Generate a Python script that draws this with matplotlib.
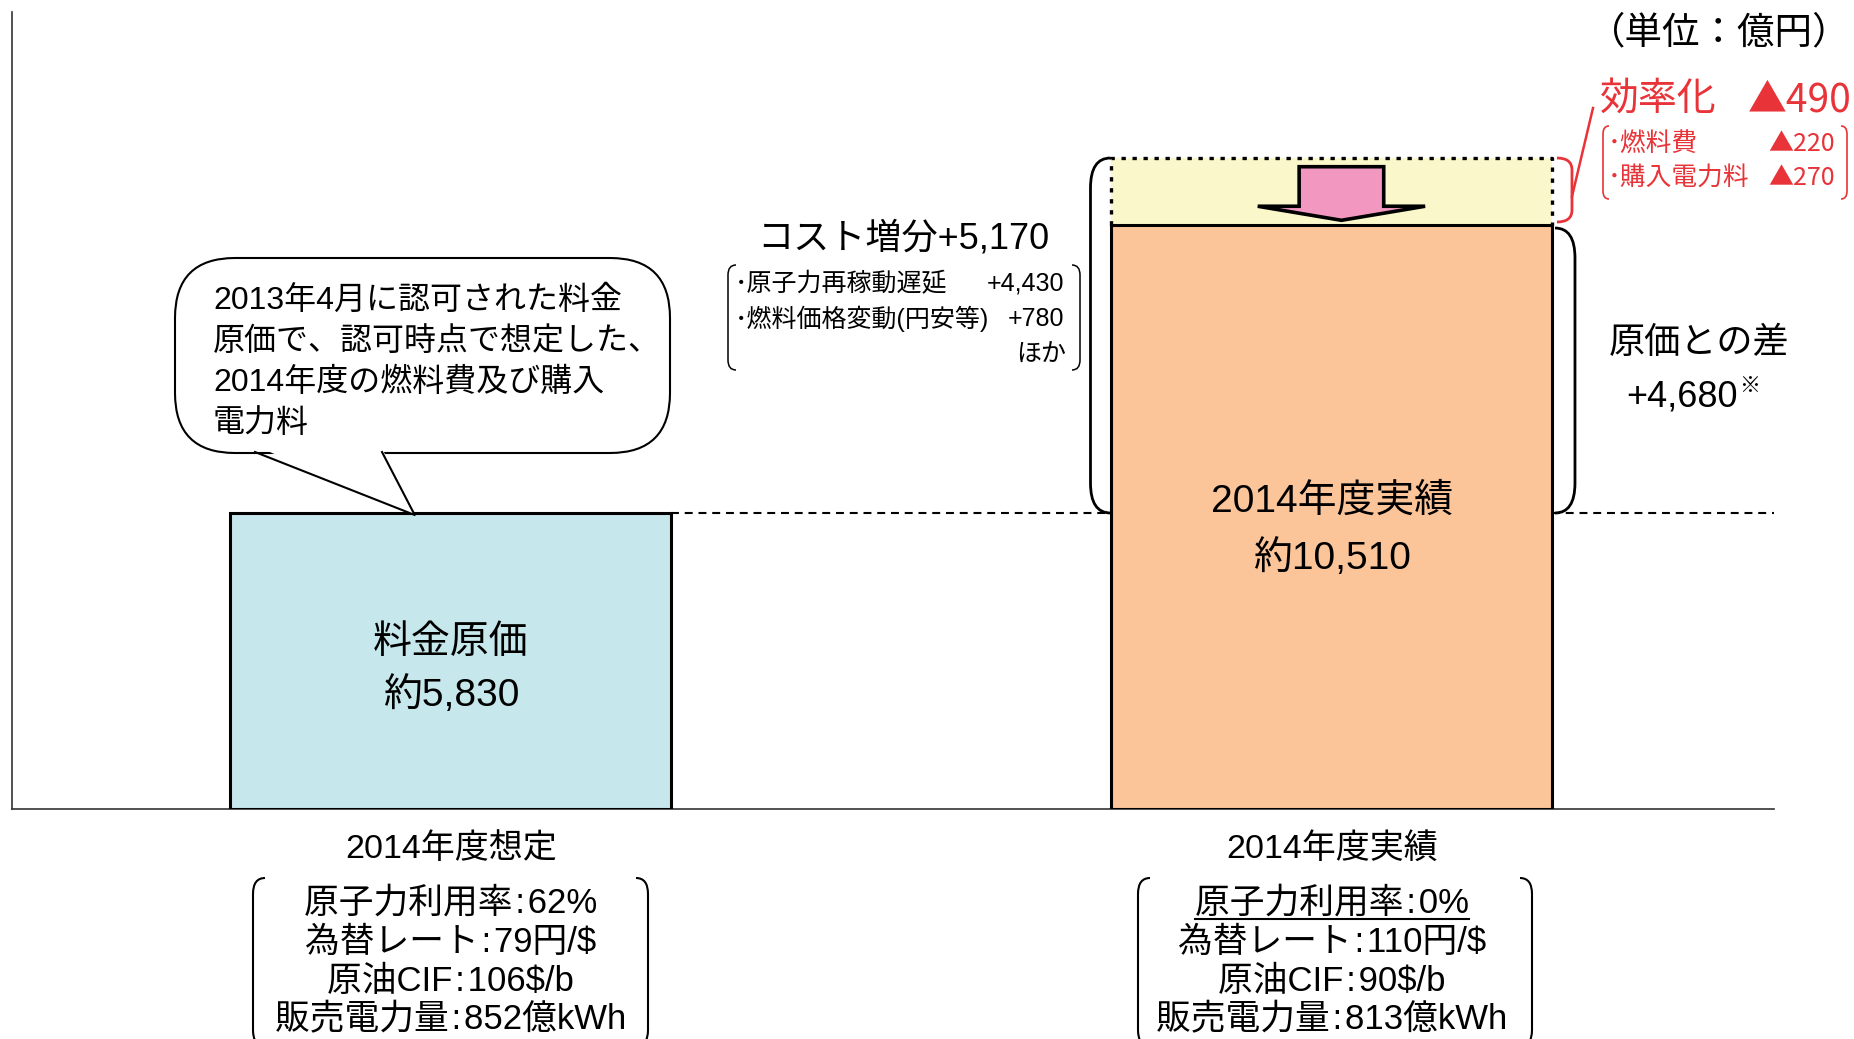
import numpy as np
import matplotlib
matplotlib.use('Agg')
import matplotlib.pyplot as plt
from matplotlib.patches import Polygon, FancyBboxPatch, PathPatch
from matplotlib.path import Path

plt.rcParams['font.family'] = ['Liberation Sans', 'Noto Sans CJK JP', 'DejaVu Sans']
CJK_FIRST = ['Noto Sans CJK JP', 'Liberation Sans', 'DejaVu Sans']

# data (億円)
categories = ['2014年度想定', '2014年度実績']
bar_names = ['料金原価', '2014年度実績']
totals = [5830, 10510]
efficiency = 490
cost_increase = 5170
increase_items = ['･原子力再稼動遅延', '･燃料価格変動(円安等)']
increase_values = [4430, 780]
eff_items = ['･燃料費', '･購入電力料']
eff_values = [220, 270]
diff = 4680
bubble_lines = ['2013年4月に認可された料金', '原価で、認可時点で想定した、',
                '2014年度の燃料費及び購入', '電力料']
cond_plan = ['原子力利用率:62%', '為替レート:79円/$', '原油CIF:106$/b', '販売電力量:852億kWh']
cond_actual = ['原子力利用率:0%', '為替レート:110円/$', '原油CIF:90$/b', '販売電力量:813億kWh']

colors = ['#C6E7EB', '#FBC499']
yellow = '#FAF8CB'
pink = '#F297C0'
red = '#E83338'

W, H = 1854, 1039
fig = plt.figure(figsize=(W / 100, H / 100), dpi=100)
fig.patch.set_facecolor('white')

# main chart area
ax = fig.add_axes([12 / W, (H - 809) / H, 1762 / W, 797 / H])

# schematic (not to scale) vertical axis, like the original slide
kv = [0, totals[0], totals[1], totals[1] + efficiency]
kp = [0, 296, 584, 651]
slope = (kp[3] - kp[2]) / (kv[3] - kv[2])
kv = kv + [kv[-1] + 10000]
kp = kp + [kp[-1] + 10000 * slope]
fwd = lambda v: np.interp(v, kv, kp)
inv = lambda p: np.interp(p, kp, kv)
ax.set_yscale('function', functions=(fwd, inv))
ax.set_ylim(0, inv(797))
ax.set_xlim(-0.498, 1.502)

x = np.arange(len(totals))
bw = 0.5
ax.bar(x, totals, width=bw, color=colors, edgecolor='black', linewidth=2.2, zorder=3)
# efficiency band on top of actual
ax.bar(x[1], efficiency, bottom=totals[1], width=bw, color=yellow, edgecolor='none', zorder=2)
top = totals[1] + efficiency
ax.plot([x[1] - bw / 2, x[1] - bw / 2, x[1] + bw / 2, x[1] + bw / 2],
        [totals[1], top, top, totals[1]], color='black', lw=2.4,
        linestyle=(0, (1.3, 2.0)), dash_capstyle='butt', zorder=4)

# down arrow inside the band
ac = x[1] + 0.011
sw, hw = 0.048, 0.095
yt = totals[1] + 0.87 * efficiency
yb = totals[1] + 0.28 * efficiency
yp = totals[1] + 0.07 * efficiency
arrow = Polygon([(ac - sw, yt), (ac + sw, yt), (ac + sw, yb), (ac + hw, yb),
                 (ac, yp), (ac - hw, yb), (ac - sw, yb)], closed=True,
                facecolor=pink, edgecolor='black', lw=2.6, joinstyle='miter', zorder=5)
ax.add_patch(arrow)

# dashed reference line at plan level
ax.plot([x[0] + bw / 2, x[1] - bw / 2], [totals[0]] * 2, color='black', lw=1.5,
        linestyle=(0, (3.8, 2.8)), zorder=1)
ax.plot([x[1] + bw / 2, 1.502], [totals[0]] * 2, color='black', lw=1.5,
        linestyle=(0, (3.8, 2.8)), zorder=1)

for s in ['top', 'right']:
    ax.spines[s].set_visible(False)
for s in ['left', 'bottom']:
    ax.spines[s].set_color('#333333')
    ax.spines[s].set_linewidth(1.2)
ax.set_xticks([])
ax.set_yticks([])
ax.minorticks_off()
ax.patch.set_alpha(0)

# overlay in pixel coordinates for annotations
ov = fig.add_axes([0, 0, 1, 1])
ov.set_xlim(0, W)
ov.set_ylim(H, 0)
ov.axis('off')
ov.patch.set_alpha(0)


def to_px(xv, yv):
    d = ax.transData.transform((xv, yv))
    return d[0], H - d[1]


def bracket(x0, y0, y1, dx, r, color='black', lw=1.5):
    verts = [(x0 + dx, y0), (x0, y0), (x0, y0 + r), (x0, y1 - r), (x0, y1), (x0 + dx, y1)]
    codes = [Path.MOVETO, Path.CURVE3, Path.CURVE3, Path.LINETO, Path.CURVE3, Path.CURVE3]
    ov.add_patch(PathPatch(Path(verts, codes), facecolor='none', edgecolor=color, lw=lw))


bx0, by_plan = to_px(x[0], totals[0])
bx1, by_act = to_px(x[1], totals[1])
_, by_top = to_px(x[1], top)
lft, _ = to_px(x[1] - bw / 2, 0)
rgt, _ = to_px(x[1] + bw / 2, 0)

# brackets beside actual bar
bracket(lft - 21, by_top, by_plan, 20, 30, lw=2)
bracket(rgt + 23, by_act + 3, by_plan, -20, 30, lw=2)
bracket(rgt + 20, by_top, by_act - 3, -15, 12, color=red, lw=2)
ov.plot([rgt + 20, 1593], [(by_top + by_act) / 2 + 5, 108], color=red, lw=1.8)

# unit
ov.text(1850, 33, '（単位：億円）', fontsize=27, ha='right', va='center')

# efficiency text
ov.text(1600, 100, '効率化', fontsize=28, color=red, va='center')
ov.text(1852, 100, '▲{}'.format(efficiency), fontsize=28, color=red, va='center',
        ha='right', family=CJK_FIRST)
for i, (nm, v) in enumerate(zip(eff_items, eff_values)):
    yy = 144 + 34 * i
    ov.text(1608, yy, nm, fontsize=18.5, color=red, va='center')
    ov.text(1835, yy, '▲{}'.format(v), fontsize=18, color=red, va='center', ha='right',
            family=CJK_FIRST)
bracket(1603, 126, 199, 6, 8, color=red, lw=1.2)
bracket(1847, 126, 199, -6, 8, color=red, lw=1.2)

# cost increase text
ov.text(903, 239, 'コスト増分+{:,}'.format(cost_increase), fontsize=26, ha='center', va='center')
for i, (nm, v) in enumerate(zip(increase_items, increase_values)):
    yy = 284 + 35 * i
    ov.text(735, yy, nm, fontsize=18, va='center')
    ov.text(1064, yy, '+{:,}'.format(v), fontsize=18, va='center', ha='right')
ov.text(1066, 355, 'ほか', fontsize=18, va='center', ha='right')
bracket(728, 265, 370, 8, 10, lw=1.1)
bracket(1080, 265, 370, -8, 10, lw=1.1)

# difference text
ov.text(1699, 343, '原価との差', fontsize=26, ha='center', va='center')
ov.text(1738, 397, '+{:,}'.format(diff), fontsize=26, ha='right', va='center')
ov.text(1739, 386, '※', fontsize=15, ha='left', va='center')

# speech bubble
bub = FancyBboxPatch((175, 258), 495, 195, boxstyle='round,pad=0,rounding_size=60',
                     facecolor='white', edgecolor='black', lw=1.5, zorder=3)
ov.add_patch(bub)
tip = (bx0 - 36, by_plan + 2)
ov.add_patch(Polygon([(256, 446), (381, 446), tip], closed=True, facecolor='white',
                     edgecolor='none', zorder=4))
ov.plot([255, tip[0], 382], [452, tip[1], 452], color='black', lw=1.5, zorder=5)
for i, line in enumerate(bubble_lines):
    ov.text(213, 301 + 41 * i, line, fontsize=23, va='center', zorder=6)

# labels inside bars
ov.text(bx0, 643, bar_names[0], fontsize=28, ha='center', va='center')
ov.text(bx0, 695, '約{:,}'.format(totals[0]), fontsize=28, ha='center', va='center')
ov.text(bx1, 502, bar_names[1], fontsize=28, ha='center', va='center')
ov.text(bx1, 558, '約{:,}'.format(totals[1]), fontsize=28, ha='center', va='center')

# category labels and conditions
renderer = fig.canvas.get_renderer()
for cx, cat, conds, bl, br in [(bx0, categories[0], cond_plan, 253, 648),
                               (bx1, categories[1], cond_actual, 1138, 1532)]:
    ov.text(cx, 849, cat, fontsize=24.5, ha='center', va='center')
    for i, c in enumerate(conds):
        t = ov.text(cx, 903 + 39 * i, c.replace(':', '\u200a:\u200a'), fontsize=25,
                    ha='center', va='center')
        if cx == bx1 and i == 0:
            bb = t.get_window_extent(renderer)
            ov.plot([bb.x0, bb.x1], [919, 919], color='black', lw=1.5)
    bracket(bl, 878, 1046, 12, 16, lw=1.5)
    bracket(br, 878, 1046, -12, 16, lw=1.5)

fig.savefig('out.png', dpi=100, facecolor='white')
